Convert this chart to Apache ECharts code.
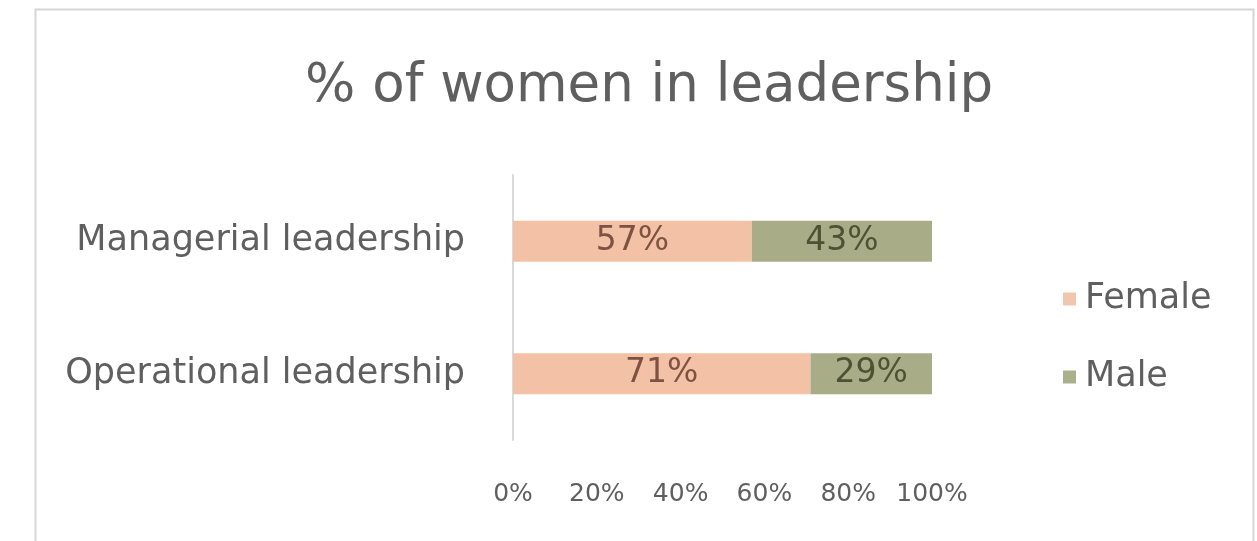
<!DOCTYPE html>
<html>
<head>
<meta charset="utf-8">
<script src="https://cdn.jsdelivr.net/npm/echarts@6/dist/echarts.min.js"></script>
<style>
  html, body { margin: 0; padding: 0; background: #ffffff; }
  #chart { width: 1257px; height: 541px; }
</style>
</head>
<body>
<div id="chart"></div>
<script>
// Leadership roles and gender split (percent)
const categories = ['Operational leadership', 'Managerial leadership'];
const femaleValues = [71, 57];
const maleValues = [29, 43];
const tickLabels = ['0%', '20%', '40%', '60%', '80%', '100%'];

const FONT = '"DejaVu Sans", "Noto Sans", sans-serif';
const TEXT = '#5f5f5f';

const chart = echarts.init(document.getElementById('chart'));

chart.setOption({
  animation: false,
  backgroundColor: '#ffffff',
  graphic: [{
    type: 'rect',
    left: 33, top: 7,
    shape: { width: 1218, height: 534 },
    style: { fill: 'none', stroke: '#d6d6d6', lineWidth: 2 },
    silent: true
  }],
  title: {
    text: '% of women in leadership',
    left: 300,
    top: 56,
    textStyle: { fontFamily: FONT, fontSize: 53, fontWeight: 'normal', color: TEXT }
  },
  legend: {
    orient: 'vertical',
    left: 1058,
    top: 276,
    itemWidth: 13,
    itemHeight: 13,
    itemGap: 42,
    icon: 'rect',
    textStyle: { fontFamily: FONT, fontSize: 35, lineHeight: 36, color: TEXT, padding: [0, 0, 0, 4] },
    data: [
      { name: 'Female', itemStyle: { color: '#f1c6ae' } },
      { name: 'Male', itemStyle: { color: '#a9b08a' } }
    ]
  },
  grid: { left: 513, right: 325, top: 175, bottom: 101, containLabel: false },
  xAxis: {
    type: 'value',
    min: 0,
    max: 100,
    interval: 20,
    axisLine: { show: false },
    axisTick: { show: false },
    splitLine: { show: false },
    axisLabel: {
      margin: 42,
      fontFamily: FONT,
      fontSize: 25,
      color: TEXT,
      formatter: v => tickLabels[Math.round(v / 20)]
    }
  },
  yAxis: {
    type: 'category',
    data: categories,
    axisLine: { show: true, lineStyle: { color: '#d9d9d9', width: 2 } },
    axisTick: { show: false },
    axisLabel: { margin: 48, fontFamily: FONT, fontSize: 35, color: TEXT }
  },
  series: [
    {
      name: 'Female',
      type: 'bar',
      stack: 'total',
      barWidth: 41,
      data: femaleValues,
      itemStyle: { color: '#f3c2a6' },
      label: {
        show: true,
        position: 'inside',
        formatter: p => p.value + '%',
        fontFamily: FONT,
        fontSize: 33,
        color: '#7e5142'
      }
    },
    {
      name: 'Male',
      type: 'bar',
      stack: 'total',
      barWidth: 41,
      data: maleValues,
      itemStyle: { color: '#a9ad87' },
      label: {
        show: true,
        position: 'inside',
        formatter: p => p.value + '%',
        fontFamily: FONT,
        fontSize: 33,
        color: '#4e5234'
      }
    }
  ]
});
</script>
</body>
</html>
